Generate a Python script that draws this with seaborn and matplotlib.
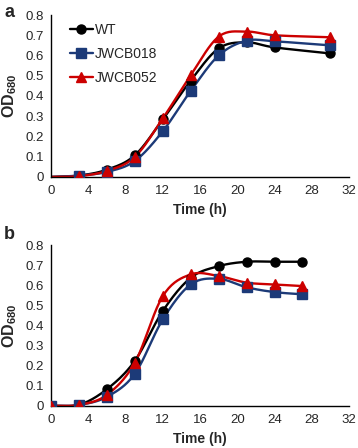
import numpy as np
import pandas as pd
import matplotlib
matplotlib.use("Agg")
import matplotlib.pyplot as plt
import seaborn as sns

# panel a
time_a = [0, 3, 6, 9, 12, 15, 18, 21, 24, 30]
wt_a = [0.0, 0.007, 0.036, 0.107, 0.284, 0.476, 0.635, 0.665, 0.640, 0.610]
j018_a = [0.0, 0.007, 0.025, 0.079, 0.226, 0.425, 0.600, 0.673, 0.670, 0.650]
j052_a = [0.0, 0.004, 0.030, 0.099, 0.289, 0.503, 0.693, 0.718, 0.700, 0.690]

# panel b
time_b = [0, 3, 6, 9, 12, 15, 18, 21, 24, 27]
wt_b = [0.0, 0.005, 0.083, 0.224, 0.472, 0.637, 0.695, 0.717, 0.717, 0.717]
j018_b = [0.0, 0.005, 0.045, 0.160, 0.430, 0.604, 0.632, 0.590, 0.566, 0.555]
j052_b = [0.0, 0.005, 0.055, 0.215, 0.546, 0.654, 0.646, 0.613, 0.604, 0.596]
wt_b_err = [0, 0, 0, 0, 0, 0, 0, 0.015, 0, 0]

strains = ["WT", "JWCB018", "JWCB052"]
colors = {"WT": "#000000", "JWCB018": "#1c3a78", "JWCB052": "#cc0000"}
markers = {"WT": "o", "JWCB018": "s", "JWCB052": "^"}
msizes = {"WT": 6.5, "JWCB018": 6.5, "JWCB052": 7.5}


def smooth(x, y, n=20):
    # Excel-like smoothed line (Catmull-Rom through the data points)
    x = np.asarray(x, float)
    y = np.asarray(y, float)
    px = np.concatenate([[2 * x[0] - x[1]], x, [2 * x[-1] - x[-2]]])
    py = np.concatenate([[2 * y[0] - y[1]], y, [2 * y[-1] - y[-2]]])
    xs, ys = [], []
    t = np.linspace(0, 1, n)
    for i in range(1, len(px) - 2):
        for arr, out in ((px, xs), (py, ys)):
            p0, p1, p2, p3 = arr[i - 1], arr[i], arr[i + 1], arr[i + 2]
            out.extend(0.5 * (2 * p1 + (-p0 + p2) * t
                              + (2 * p0 - 5 * p1 + 4 * p2 - p3) * t ** 2
                              + (-p0 + 3 * p1 - 3 * p2 + p3) * t ** 3))
    return np.array(xs), np.array(ys)


def draw(ax, t, series, skip_first, errs=None, legend=False):
    for name in strains:
        y = series[name]
        sx, sy = smooth(t, y)
        sns.lineplot(x=sx, y=sy, ax=ax, color=colors[name], lw=1.7,
                     sort=False, estimator=None)
        mt = t[1:] if skip_first else t
        my = y[1:] if skip_first else y
        if errs is not None and name in errs:
            ax.errorbar(t, y, yerr=errs[name], fmt="none", ecolor="#888888",
                        elinewidth=1, capsize=2, zorder=2)
        ax.plot(mt, my, ls="none", marker=markers[name], ms=msizes[name],
                color=colors[name], zorder=4)
        if legend:
            ax.plot([], [], color=colors[name], lw=1.7, marker=markers[name],
                    ms=msizes[name], label=name)
    ax.set_xlim(0, 32)
    ax.set_ylim(0, 0.8)
    ax.set_xticks(range(0, 33, 4))
    ax.set_yticks(np.arange(0, 0.81, 0.1))
    ax.set_yticklabels(["0"] + [f"{v:.1f}" for v in np.arange(0.1, 0.81, 0.1)])
    ax.tick_params(direction="in", length=3, labelsize=9.5, width=1)
    ax.tick_params(axis="x", pad=6)
    ax.tick_params(axis="y", pad=5)
    for s in ["top", "right"]:
        ax.spines[s].set_visible(False)
    for s in ["left", "bottom"]:
        ax.spines[s].set_linewidth(1)
        ax.spines[s].set_color("black")
    ax.set_xlabel("Time (h)", fontweight="bold", fontsize=10, labelpad=4)
    ax.set_ylabel(r"$\mathbf{OD_{680}}$", fontsize=11.5, labelpad=5)
    ax.grid(False)


sns.set_theme(style="white")
plt.rcParams["font.family"] = ["Liberation Sans", "DejaVu Sans"]
plt.rcParams["mathtext.fontset"] = "custom"
plt.rcParams["mathtext.bf"] = "Liberation Sans:bold"
plt.rcParams["mathtext.rm"] = "Liberation Sans"

fig = plt.figure(figsize=(3.58, 4.48), dpi=100)
ax1 = fig.add_axes([0.1425, 0.605, 0.8325, 0.3615])
ax2 = fig.add_axes([0.1425, 0.094, 0.8325, 0.359])

draw(ax1, time_a, {"WT": wt_a, "JWCB018": j018_a, "JWCB052": j052_a},
     skip_first=True, legend=True)
draw(ax2, time_b, {"WT": wt_b, "JWCB018": j018_b, "JWCB052": j052_b},
     skip_first=False, errs={"WT": wt_b_err})

ax1.legend(loc="upper left", bbox_to_anchor=(0.03, 1.01), frameon=False,
           fontsize=10, handlelength=1.7, handletextpad=0.1, labelspacing=0.72,
           borderpad=0.2)

fig.text(0.012, 0.99, "a", fontsize=13, fontweight="bold", va="top")
fig.text(0.012, 0.495, "b", fontsize=13, fontweight="bold", va="top")

fig.savefig("out.png", dpi=100)
